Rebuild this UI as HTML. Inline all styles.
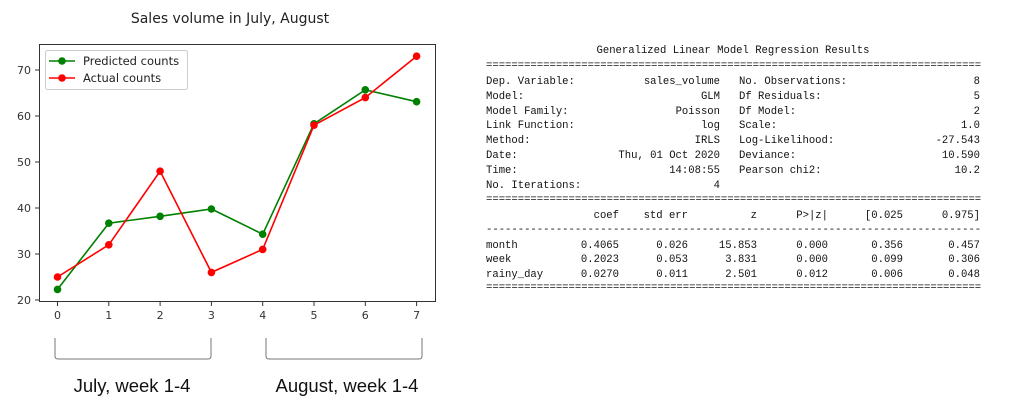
<!DOCTYPE html>
<html><head><meta charset="utf-8"><style>
body{margin:0;width:1024px;height:411px;background:#fff;overflow:hidden;position:relative;font-family:"Liberation Sans",sans-serif}
.t{position:absolute;font-family:"Liberation Mono",monospace;font-size:10.58px;color:#111;white-space:pre;line-height:12px}
.r{text-align:right}
</style></head><body>
<svg width="1024" height="411" style="position:absolute;left:0;top:0">
<text x="230" y="23" font-size="14" text-anchor="middle" fill="#222" font-family="DejaVu Sans,sans-serif">Sales volume in July, August</text>
<rect x="39.5" y="44.5" width="396" height="257" fill="none" stroke="#333" stroke-width="1"/>
<g font-size="11" fill="#333" text-anchor="end" font-family="DejaVu Sans,sans-serif">
<text x="31" y="304">20</text><text x="31" y="258">30</text><text x="31" y="212">40</text><text x="31" y="166">50</text><text x="31" y="120">60</text><text x="31" y="74">70</text>
</g>
<g stroke="#333"><line x1="35" x2="39" y1="300" y2="300"/><line x1="35" x2="39" y1="254" y2="254"/><line x1="35" x2="39" y1="208" y2="208"/><line x1="35" x2="39" y1="162" y2="162"/><line x1="35" x2="39" y1="116" y2="116"/><line x1="35" x2="39" y1="70" y2="70"/>
<line y1="302" y2="306" x1="57.5" x2="57.5"/><line y1="302" y2="306" x1="108.8" x2="108.8"/><line y1="302" y2="306" x1="160.1" x2="160.1"/><line y1="302" y2="306" x1="211.4" x2="211.4"/><line y1="302" y2="306" x1="262.7" x2="262.7"/><line y1="302" y2="306" x1="314" x2="314"/><line y1="302" y2="306" x1="365.3" x2="365.3"/><line y1="302" y2="306" x1="416.6" x2="416.6"/></g>
<g font-size="11" fill="#333" text-anchor="middle" font-family="DejaVu Sans,sans-serif">
<text x="57.5" y="319">0</text><text x="108.8" y="319">1</text><text x="160.1" y="319">2</text><text x="211.4" y="319">3</text><text x="262.7" y="319">4</text><text x="314" y="319">5</text><text x="365.3" y="319">6</text><text x="416.6" y="319">7</text></g>
<polyline fill="none" stroke="green" stroke-width="1.6" points="57.5,289.4 108.8,223.2 160.1,216.3 211.4,209 262.7,234.2 314,123.8 365.3,89.8 416.6,101.7"/>
<g fill="green"><circle cx="57.5" cy="289.4" r="3.8"/><circle cx="108.8" cy="223.2" r="3.8"/><circle cx="160.1" cy="216.3" r="3.8"/><circle cx="211.4" cy="209" r="3.8"/><circle cx="262.7" cy="234.2" r="3.8"/><circle cx="314" cy="123.8" r="3.8"/><circle cx="365.3" cy="89.8" r="3.8"/><circle cx="416.6" cy="101.7" r="3.8"/></g>
<polyline fill="none" stroke="red" stroke-width="1.6" points="57.5,277 108.8,244.8 160.1,171.2 211.4,272.4 262.7,249.4 314,125.2 365.3,97.6 416.6,56.2"/>
<g fill="red"><circle cx="57.5" cy="277" r="3.8"/><circle cx="108.8" cy="244.8" r="3.8"/><circle cx="160.1" cy="171.2" r="3.8"/><circle cx="211.4" cy="272.4" r="3.8"/><circle cx="262.7" cy="244.8" r="0"/><circle cx="262.7" cy="249.4" r="3.8"/><circle cx="314" cy="125.2" r="3.8"/><circle cx="365.3" cy="97.6" r="3.8"/><circle cx="416.6" cy="56.2" r="3.8"/></g>
<rect x="45.5" y="50.5" width="142" height="39" rx="2" fill="#fff" fill-opacity="0.85" stroke="#ccc"/>
<line x1="49" x2="75" y1="61" y2="61" stroke="green" stroke-width="1.6"/><circle cx="62" cy="61" r="3.8" fill="green"/>
<line x1="49" x2="75" y1="78" y2="78" stroke="red" stroke-width="1.6"/><circle cx="62" cy="78" r="3.8" fill="red"/>
<g font-size="11.5" fill="#222" font-family="DejaVu Sans,sans-serif"><text x="83" y="65">Predicted counts</text><text x="83" y="82">Actual counts</text></g>
<g fill="none" stroke="#777" stroke-width="1"><path d="M55,338 v18 q0,3 3,3 h150 q3,0 3,-3 v-18"/><path d="M266,338 v18 q0,3 3,3 h150 q3,0 3,-3 v-18"/></g>
<g font-size="18.5" fill="#111" text-anchor="middle" font-family="Liberation Sans,sans-serif"><text x="132" y="392">July, week 1-4</text><text x="347" y="392">August, week 1-4</text></g>
</svg>
<div class="t" style="left:486px;top:45px;width:494px;text-align:center">Generalized Linear Model Regression Results</div>
<div class="t" style="left:486px;top:60px">==============================================================================</div>
<div class="t" style="left:486px;top:75px;line-height:14.8px">Dep. Variable:
Model:
Model Family:
Link Function:
Method:
Date:
Time:
No. Iterations:</div>
<div class="t r" style="left:600px;width:120px;top:75px;line-height:14.8px">sales_volume
GLM
Poisson
log
IRLS
Thu, 01 Oct 2020
14:08:55
4</div>
<div class="t" style="left:739px;top:75px;line-height:14.8px">No. Observations:
Df Residuals:
Df Model:
Scale:
Log-Likelihood:
Deviance:
Pearson chi2:</div>
<div class="t r" style="left:880px;width:100px;top:75px;line-height:14.8px">8
5
2
1.0
-27.543
10.590
10.2</div>
<div class="t" style="left:486px;top:194px">==============================================================================</div>
<div class="t" style="left:486px;top:209px;line-height:14.8px">

month
week
rainy_day</div>
<div class="t r" style="left:560px;width:59px;top:209px;line-height:14.8px">coef

0.4065
0.2023
0.0270</div>
<div class="t r" style="left:620px;width:68px;top:209px;line-height:14.8px">std err

0.026
0.053
0.011</div>
<div class="t r" style="left:690px;width:67px;top:209px;line-height:14.8px">z

15.853
3.831
2.501</div>
<div class="t r" style="left:760px;width:68px;top:209px;line-height:14.8px">P&gt;|z|

0.000
0.000
0.012</div>
<div class="t r" style="left:830px;width:73px;top:209px;line-height:14.8px">[0.025

0.356
0.099
0.006</div>
<div class="t r" style="left:905px;width:75px;top:209px;line-height:14.8px">0.975]

0.457
0.306
0.048</div>
<div class="t" style="left:486px;top:224px">------------------------------------------------------------------------------</div>
<div class="t" style="left:486px;top:282px">==============================================================================</div>
</body></html>
